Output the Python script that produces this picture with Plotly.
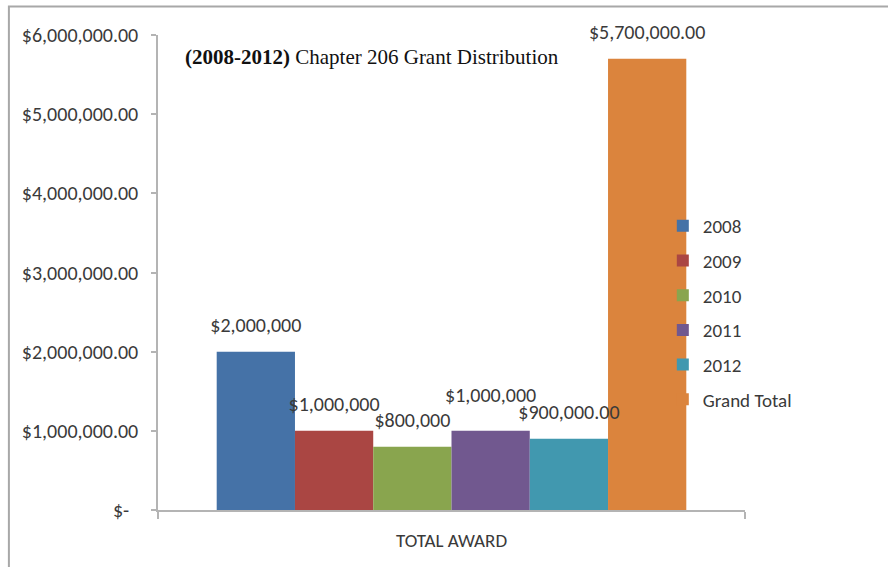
import plotly.graph_objects as go

# Chapter 206 grant awards by year, plus the grand total
category = ["TOTAL AWARD"]
series_names = ["2008", "2009", "2010", "2011", "2012", "Grand Total"]
award_values = [2000000, 1000000, 800000, 1000000, 900000, 5700000]
award_labels = ["$2,000,000", "$1,000,000", "$800,000", "$1,000,000", "$900,000.00", "$5,700,000.00"]

y_tick_values = [0, 1000000, 2000000, 3000000, 4000000, 5000000, 6000000]
y_tick_labels = ["$-\u00a0\u00a0", "$1,000,000.00", "$2,000,000.00", "$3,000,000.00",
                 "$4,000,000.00", "$5,000,000.00", "$6,000,000.00"]

colors = ["#4572A7", "#AA4643", "#89A54E", "#71588F", "#4198AF", "#DB843D"]

BODY_FONT = "Carlito, Lato, Noto Sans, sans-serif"
TEXT_GREY = "#3a3a3a"
AXIS_GREY = "#b4b4b4"
BARGAP = 0.2

# marker size of the invisible label anchors (controls label lift above bars)
label_lift = [22, 22, 22, 36, 22, 22]

fig = go.Figure()

for name, val, col in zip(series_names, award_values, colors):
    fig.add_trace(go.Bar(
        x=category, y=[val], name=name, legendgroup=name,
        marker=dict(color=col, line=dict(width=0)),
        hoverinfo="skip",
    ))

# value labels: one text point per series on an overlaid per-series axis
fig.add_trace(go.Scatter(
    x=series_names, y=award_values, text=award_labels,
    mode="markers+text", textposition="top center",
    marker=dict(size=label_lift, color="rgba(0,0,0,0)", opacity=0,
                line=dict(width=0, color="rgba(0,0,0,0)")),
    textfont=dict(family=BODY_FONT, size=20, color=TEXT_GREY),
    xaxis="x2", yaxis="y", showlegend=False, cliponaxis=False, hoverinfo="skip",
))

n = len(series_names)
span = n / (1 - BARGAP)
pad = (span - n) / 2

fig.update_layout(
    width=888, height=567, autosize=False,
    margin=dict(l=158, r=143, t=35, b=57),
    paper_bgcolor="white", plot_bgcolor="white",
    barmode="group", bargap=BARGAP, bargroupgap=0,
    font=dict(family=BODY_FONT, color=TEXT_GREY),
    xaxis=dict(
        type="category", showgrid=False, showline=True, linecolor=AXIS_GREY, linewidth=1.5,
        ticks="outside", tickson="boundaries", ticklen=7, tickcolor=AXIS_GREY, tickwidth=1.5,
        tickfont=dict(family=BODY_FONT, size=19, color=TEXT_GREY),
        ticklabelstandoff=12,
    ),
    xaxis2=dict(
        type="category", overlaying="x", visible=False,
        range=[-0.5 - pad, n - 0.5 + pad],
        categoryorder="array", categoryarray=series_names,
    ),
    yaxis=dict(
        range=[0, 6000000], showgrid=False, zeroline=False,
        showline=True, linecolor=AXIS_GREY, linewidth=1.5,
        ticks="outside", ticklen=5, tickcolor=AXIS_GREY, tickwidth=1.5,
        tickvals=y_tick_values, ticktext=y_tick_labels,
        tickfont=dict(family=BODY_FONT, size=20, color=TEXT_GREY),
        ticklabelstandoff=9,
    ),
    legend=dict(
        x=0.86, y=0.638, xanchor="left", yanchor="top",
        bgcolor="rgba(0,0,0,0)", tracegroupgap=7,
        font=dict(family=BODY_FONT, size=19, color=TEXT_GREY),
        itemclick=False, itemdoubleclick=False,
    ),
    showlegend=True,
    annotations=[dict(
        text="<b>(2008-2012)</b> Chapter 206 Grant Distribution",
        xref="paper", yref="paper", x=0.3646, y=0.954,
        xanchor="center", yanchor="middle", showarrow=False,
        font=dict(family="Liberation Serif, DejaVu Serif, serif", size=21, color="#111111"),
    )],
    shapes=[dict(
        type="rect", xref="paper", yref="paper",
        x0=-0.254, x1=1.5, y0=-0.5, y1=1.06,
        line=dict(color="#a8a8a8", width=2), fillcolor="rgba(0,0,0,0)", layer="below",
    )],
)

fig.write_html("out.html")
